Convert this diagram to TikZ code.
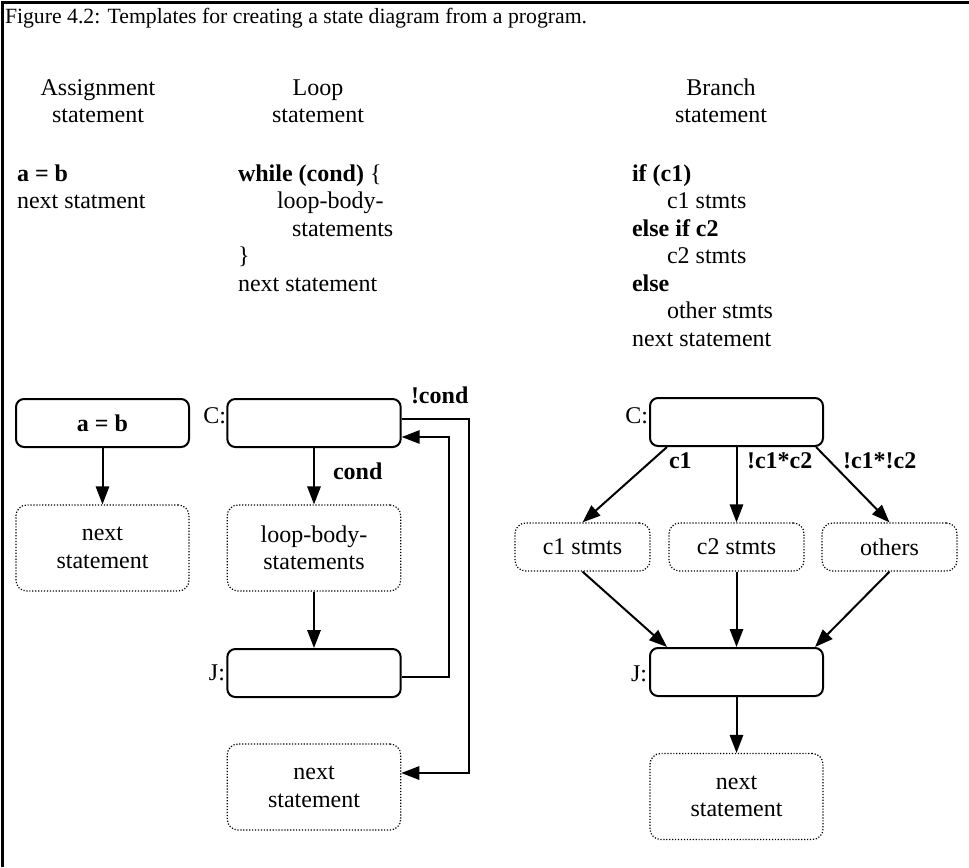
\documentclass[tikz,border=0pt]{standalone}
\usepackage{fontspec}
\setmainfont{Liberation Serif}
\usetikzlibrary{arrows.meta,calc}

\begin{document}
\begin{tikzpicture}[x=0.75pt,y=-0.75pt,
  txt/.style={font=\fontsize{18}{20.6}\selectfont, inner sep=0pt, outer sep=0pt},
  code/.style={txt, anchor=base west},
  head/.style={txt, anchor=base},
  tag/.style={txt, anchor=base east},
  cond/.style={txt, anchor=base west, font=\fontsize{18}{20.6}\selectfont\bfseries},
  statebox/.style={draw, line width=1.5pt, rounded corners=6pt, inner sep=0pt,
    minimum width=130pt, minimum height=36pt, font=\fontsize{18}{20.6}\selectfont\bfseries},
  stmtbox/.style={draw, line width=0.9pt, dash pattern=on 0.9pt off 1.3pt,
    rounded corners=8pt, inner sep=0pt, align=center,
    minimum width=130pt, minimum height=64.5pt, font=\fontsize{18}{20.6}\selectfont},
  smallstmt/.style={stmtbox, minimum width=101.25pt, minimum height=36pt},
  link/.style={line width=1.5pt},
  arr/.style={link, -{Triangle[length=13.5pt,width=10pt]}}
]
\fill[white] (0,0) rectangle (969,867);
\useasboundingbox (0,0) rectangle (969,867);

% frame
\draw[line width=2.25pt] (2.5,867) -- (2.5,2.5) -- (969,2.5);

% caption and column headings
\node[code, font=\fontsize{16.3}{19}\selectfont] (title) at (5,24) {Figure 4.2: Templates for creating a state diagram from a program.};
\node[head] (ha1) at (98,95) {Assignment};
\node[head] (ha2) at (98,122) {statement};
\node[head] (hl1) at (318,95) {Loop};
\node[head] (hl2) at (318,122) {statement};
\node[head] (hb1) at (721,95) {Branch};
\node[head] (hb2) at (721,122) {statement};

% program fragments
\node[code] (a1) at (17,181) {\textbf{a = b}};
\node[code] (a2) at (17,208.5) {next statment};

\node[code] (l1) at (238,181) {\textbf{while (cond)} \{};
\node[code] (l2) at (277,208.5) {loop-body-};
\node[code] (l3) at (292,236) {statements};
\node[code] (l4) at (238,263.5) {\}};
\node[code] (l5) at (238,291) {next statement};

\node[code] (b1t) at (632,181) {\textbf{if (c1)}};
\node[code] (b2t) at (667,208.5) {c1 stmts};
\node[code] (b3t) at (632,236) {\textbf{else if c2}};
\node[code] (b4t) at (667,263.5) {c2 stmts};
\node[code] (b5t) at (632,291) {\textbf{else}};
\node[code] (b6t) at (667,318.5) {other stmts};
\node[code] (b7t) at (632,346) {next statement};

% assignment template
\node[statebox, minimum width=129.75pt] (asg) at (102.5,423) {a = b};
\node[stmtbox, minimum width=129.75pt] (asgnext) at (102.5,548) {next\\statement};
\draw[arr] (asg.south) -- (asgnext.north);

% loop template
\node[statebox] (lc) at (314,423) {};
\node[stmtbox] (lbody) at (314,548) {loop-body-\\statements};
\node[statebox] (lj) at (314,673) {};
\node[stmtbox] (lnext) at (314,787) {next\\statement};
\node[tag] (lctag) at (226,423) {C:};
\node[tag] (ljtag) at (225,680) {J:};
\draw[arr] (lc.south) -- (lbody.north);
\node[cond] (lcond) at (333,479) {cond};
\draw[arr] (lbody.south) -- (lj.north);
\draw[arr] ($(lj.east)+(0,4)$) -- ++(47,0) |- ($(lc.east)+(0,14)$);
\draw[arr] ($(lc.east)+(0,-4)$) -- ++(67,0) |- ($(lnext.east)+(0,-14)$);
\node[cond] (lncond) at (411,403) {!cond};

% branch template
\node[statebox, minimum width=129.75pt] (bc) at (736.5,422) {};
\node[smallstmt] (s1) at (582.5,547) {c1 stmts};
\node[smallstmt] (s2) at (736.5,547) {c2 stmts};
\node[smallstmt] (s3) at (889.5,547) {others};
\node[statebox, minimum width=129.75pt] (bj) at (736.5,672) {};
\node[stmtbox, minimum width=129.75pt] (bnext) at (736.5,796.5) {next\\statement};
\node[tag] (bctag) at (648,423) {C:};
\node[tag] (bjtag) at (647,681) {J:};
\draw[arr] ($(bc.south west)+(18,0)$) -- (s1.north);
\draw[arr] (bc.south) -- (s2.north);
\draw[arr] ($(bc.south east)+(-8,0)$) -- (s3.north);
\node[cond] (bl1) at (669,468) {c1};
\node[cond] (bl2) at (747,468) {!c1*c2};
\node[cond] (bl3) at (843,468) {!c1*!c2};
\draw[arr] (s1.south) -- ($(bj.north west)+(18,0)$);
\draw[arr] (s2.south) -- (bj.north);
\draw[arr] (s3.south) -- ($(bj.north east)+(-9,0)$);
\draw[arr] (bj.south) -- (bnext.north);
\end{tikzpicture}
\end{document}
